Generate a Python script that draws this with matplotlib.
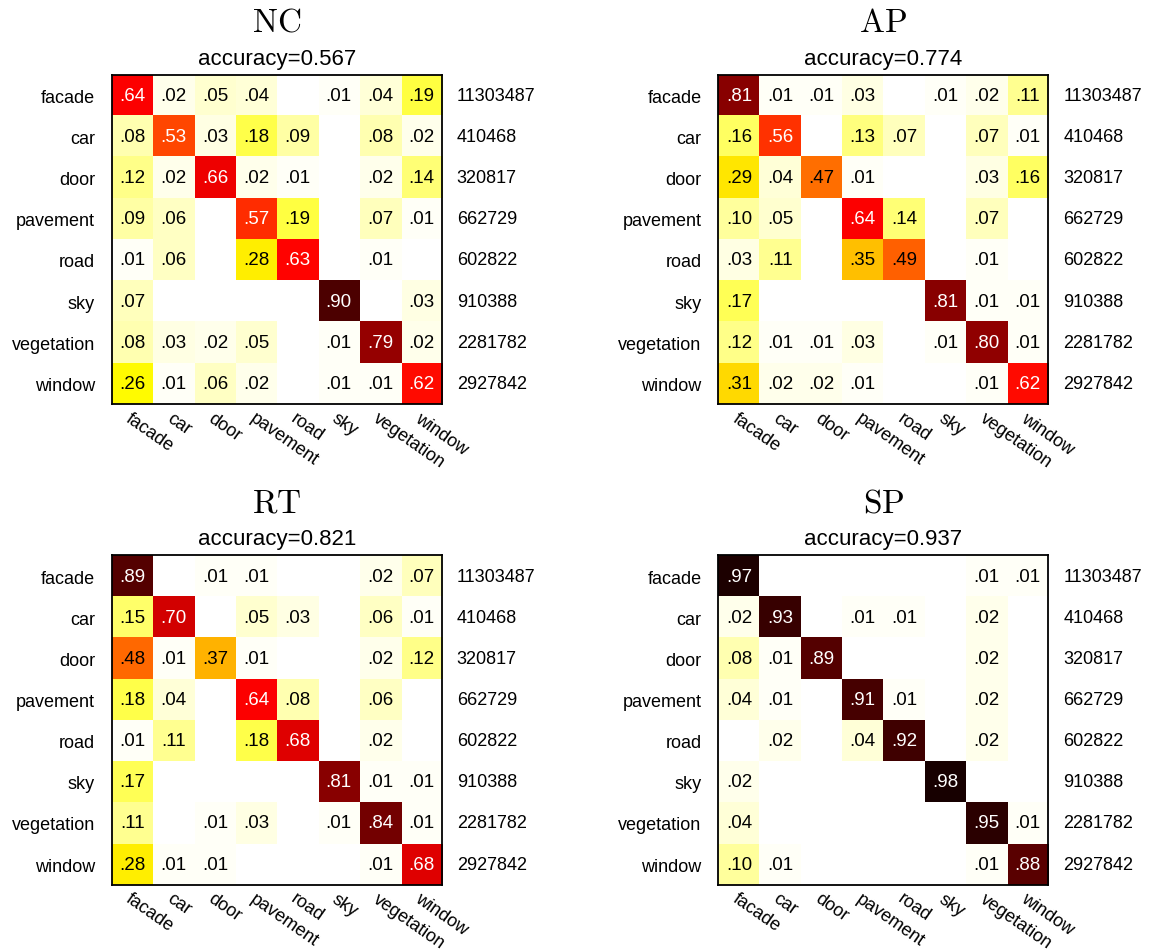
import numpy as np
import matplotlib
matplotlib.use("Agg")
import matplotlib.pyplot as plt

plt.rcParams['font.family'] = ['Liberation Sans', 'DejaVu Sans']
plt.rcParams['mathtext.fontset'] = 'cm'

classes = ['facade', 'car', 'door', 'pavement', 'road', 'sky', 'vegetation', 'window']
counts = [11303487, 410468, 320817, 662729, 602822, 910388, 2281782, 2927842]

methods = ['NC', 'AP', 'RT', 'SP']
accuracy = [0.567, 0.774, 0.821, 0.937]

cm_nc = [[.64, .02, .05, .04, 0, .01, .04, .19],
         [.08, .53, .03, .18, .09, 0, .08, .02],
         [.12, .02, .66, .02, .01, 0, .02, .14],
         [.09, .06, 0, .57, .19, 0, .07, .01],
         [.01, .06, 0, .28, .63, 0, .01, 0],
         [.07, 0, 0, 0, 0, .90, 0, .03],
         [.08, .03, .02, .05, 0, .01, .79, .02],
         [.26, .01, .06, .02, 0, .01, .01, .62]]

cm_ap = [[.81, .01, .01, .03, 0, .01, .02, .11],
         [.16, .56, 0, .13, .07, 0, .07, .01],
         [.29, .04, .47, .01, 0, 0, .03, .16],
         [.10, .05, 0, .64, .14, 0, .07, 0],
         [.03, .11, 0, .35, .49, 0, .01, 0],
         [.17, 0, 0, 0, 0, .81, .01, .01],
         [.12, .01, .01, .03, 0, .01, .80, .01],
         [.31, .02, .02, .01, 0, 0, .01, .62]]

cm_rt = [[.89, 0, .01, .01, 0, 0, .02, .07],
         [.15, .70, 0, .05, .03, 0, .06, .01],
         [.48, .01, .37, .01, 0, 0, .02, .12],
         [.18, .04, 0, .64, .08, 0, .06, 0],
         [.01, .11, 0, .18, .68, 0, .02, 0],
         [.17, 0, 0, 0, 0, .81, .01, .01],
         [.11, 0, .01, .03, 0, .01, .84, .01],
         [.28, .01, .01, 0, 0, 0, .01, .68]]

cm_sp = [[.97, 0, 0, 0, 0, 0, .01, .01],
         [.02, .93, 0, .01, .01, 0, .02, 0],
         [.08, .01, .89, 0, 0, 0, .02, 0],
         [.04, .01, 0, .91, .01, 0, .02, 0],
         [0, .02, 0, .04, .92, 0, .02, 0],
         [.02, 0, 0, 0, 0, .98, 0, 0],
         [.04, 0, 0, 0, 0, 0, .95, .01],
         [.10, .01, 0, 0, 0, 0, .01, .88]]

matrices = [cm_nc, cm_ap, cm_rt, cm_sp]

fig = plt.figure(figsize=(11.52, 9.53), dpi=100)

# axes boxes in figure fractions (left, bottom, width, height)
lefts = [0.097, 0.6235, 0.097, 0.6235]
bottoms = [0.575, 0.575, 0.0706, 0.0706]
w, h = 0.2865, 0.3455

for k in range(4):
    m = np.array(matrices[k])
    ax = fig.add_axes([lefts[k], bottoms[k], w, h])
    ax.imshow(m, cmap='hot_r', vmin=0, vmax=1, interpolation='nearest', aspect='auto')
    n = len(classes)
    for i in range(n):
        for j in range(n):
            v = m[i, j]
            if v > 0:
                s = ('%.2f' % v)[1:]
                ax.text(j, i, s, ha='center', va='center', fontsize=13.5,
                        color='white' if v > 0.5 else 'black')
    ax.set_xticks(range(n))
    ax.set_yticks(range(n))
    ax.set_xticklabels(classes, rotation=-35, ha='left', va='top',
                       rotation_mode='anchor', fontsize=13)
    ax.set_yticklabels(classes, fontsize=13)
    ax.tick_params(axis='x', length=0, pad=3.5)
    ax.tick_params(axis='y', length=0, pad=12)
    for i in range(n):
        ax.text(n - 0.5 + 0.36, i, str(counts[i]), ha='left', va='center', fontsize=13)
    for sp in ax.spines.values():
        sp.set_linewidth(1.3)
    ax.set_title('accuracy=%.3f' % accuracy[k], fontsize=16, pad=8)
    ax.text(0.5, 1.133, r'$\mathrm{%s}$' % methods[k], transform=ax.transAxes,
            ha='center', va='baseline', fontsize=24)

fig.savefig('out.png', dpi=100)
